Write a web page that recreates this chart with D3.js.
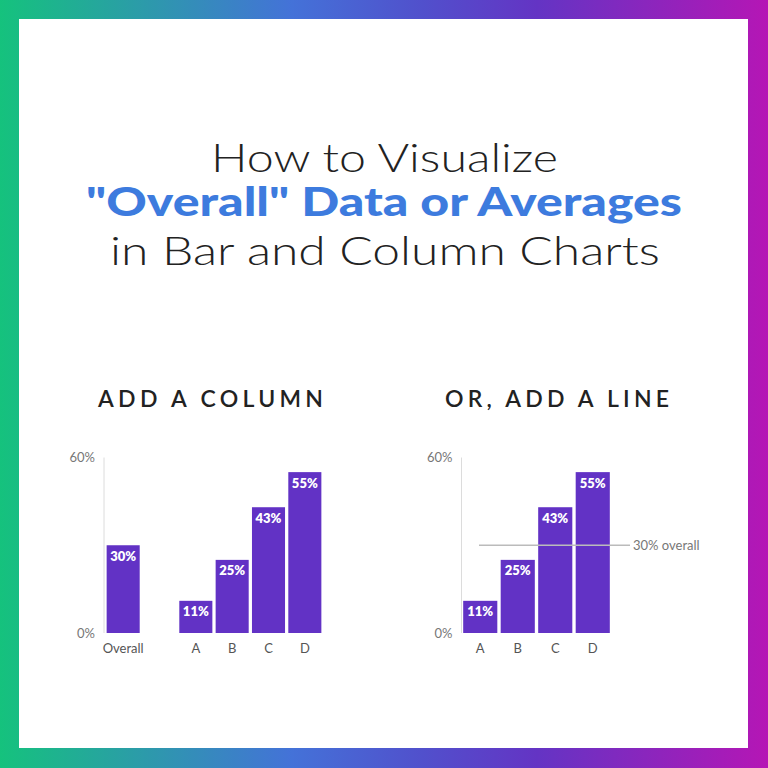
<!DOCTYPE html>
<html>
<head>
<meta charset="utf-8">
<script src="https://cdn.jsdelivr.net/npm/d3@7"></script>
<style>
  html, body { margin: 0; padding: 0; background: #fff; }
  svg { display: block; }
</style>
</head>
<body>
<svg width="768" height="768" viewBox="0 0 768 768"></svg>
<script>
// data
let columnCats = ['Overall', '', 'A', 'B', 'C', 'D'];
let columnVals = [30, null, 11, 25, 43, 55];
let lineCats = ['A', 'B', 'C', 'D'];
let lineVals = [11, 25, 43, 55];
let overallVal = 30;
let yTicks = [0, 60];
let titleLines = ['How to Visualize', '"Overall" Data or Averages', 'in Bar and Column Charts'];
let chartTitles = ['ADD A COLUMN', 'OR, ADD A LINE'];

let svg = d3.select('svg');
let purple = '#6232c5';
let font = 'Lato, "Open Sans", sans-serif';

/* Gradient frame */
let defs = svg.append('defs');
let grad = defs.append('linearGradient').attr('id', 'frame').attr('x1', 0).attr('x2', 1).attr('y1', 0).attr('y2', 0);
[[0, '#15c27d'], [0.38, '#4472d8'], [0.55, '#5150cc'], [0.7, '#6434c4'], [1, '#b516b5']].forEach(function(s) {
  grad.append('stop').attr('offset', s[0]).attr('stop-color', s[1]);
});
svg.append('rect').attr('width', 768).attr('height', 768).attr('fill', 'url(#frame)');
svg.append('rect').attr('x', 19).attr('y', 19).attr('width', 729).attr('height', 729).attr('fill', '#fff');

/* Title */
let title = [
  {t: titleLines[0], y: 172, x0: 211, x1: 558, c: '#222', w: 300},
  {t: titleLines[1], y: 216, x0: 86, x1: 682, c: '#3d7bde', w: 900},
  {t: titleLines[2], y: 265, x0: 110, x1: 660, c: '#222', w: 300}
];
svg.selectAll('text.title').data(title).enter().append('text')
  .attr('class', 'title')
  .attr('x', function(d) { return d.x0; })
  .attr('y', function(d) { return d.y; })
  .attr('textLength', function(d) { return d.x1 - d.x0; })
  .attr('lengthAdjust', 'spacingAndGlyphs')
  .attr('font-family', font)
  .attr('font-size', 40)
  .attr('font-weight', function(d) { return d.w; })
  .attr('fill', function(d) { return d.c; })
  .text(function(d) { return d.t; });

/* Chart subtitles */
svg.selectAll('text.sub').data([{t: chartTitles[0], x0: 98, x1: 323}, {t: chartTitles[1], x0: 445, x1: 669}]).enter().append('text')
  .attr('x', function(d) { return d.x0; })
  .attr('y', 407)
  .attr('textLength', function(d) { return d.x1 - d.x0; })
  .attr('lengthAdjust', 'spacing')
  .attr('font-family', font)
  .attr('font-size', 23)
  .attr('font-weight', 600)
  .attr('fill', '#222')
  .text(function(d) { return d.t; });

let y = d3.scaleLinear().domain([0, 60]).range([633, 457.5]);

function drawChart(cats, vals, x0, x1, axisX) {
  let x = d3.scaleBand().domain(cats).range([x0, x1]).paddingInner(0.09).paddingOuter(0.045);
  let g = svg.append('g');

  g.append('line')
    .attr('x1', axisX).attr('x2', axisX)
    .attr('y1', y(60)).attr('y2', y(0))
    .attr('stroke', '#dcdcdc').attr('stroke-width', 1);

  g.selectAll('text.tick').data(yTicks).enter().append('text')
    .attr('x', axisX - 9)
    .attr('y', function(d) { return y(d) + 4.5; })
    .attr('text-anchor', 'end')
    .attr('font-family', font).attr('font-size', 13).attr('fill', '#777')
    .text(function(d) { return d + '%'; });

  let data = cats.map(function(c, i) { return {c: c, v: vals[i]}; }).filter(function(d) { return d.v !== null; });

  g.selectAll('rect').data(data).enter().append('rect')
    .attr('x', function(d) { return x(d.c); })
    .attr('y', function(d) { return y(d.v); })
    .attr('width', x.bandwidth())
    .attr('height', function(d) { return y(0) - y(d.v); })
    .attr('fill', purple);

  g.selectAll('text.val').data(data).enter().append('text')
    .attr('x', function(d) { return x(d.c) + x.bandwidth() / 2; })
    .attr('y', function(d) { return y(d.v) + 15.5; })
    .attr('text-anchor', 'middle')
    .attr('font-family', font).attr('font-size', 13).attr('font-weight', 800).attr('fill', '#fff')
    .text(function(d) { return d.v + '%'; });

  g.selectAll('text.cat').data(data).enter().append('text')
    .attr('x', function(d) { return x(d.c) + x.bandwidth() / 2; })
    .attr('y', 653)
    .attr('text-anchor', 'middle')
    .attr('font-family', font).attr('font-size', 13).attr('fill', '#555')
    .text(function(d) { return d.c; });

  return g;
}

drawChart(columnCats, columnVals, 105, 323, 104);
let right = drawChart(lineCats, lineVals, 461.5, 611.5, 461.5);

right.append('line')
  .attr('x1', 479).attr('x2', 630)
  .attr('y1', y(overallVal)).attr('y2', y(overallVal))
  .attr('stroke', '#bbbbbb').attr('stroke-width', 1.5);
right.append('text')
  .attr('x', 633).attr('y', y(overallVal) + 4.5)
  .attr('font-family', font).attr('font-size', 13).attr('fill', '#777')
  .text(overallVal + '% overall');
</script>
</body>
</html>
